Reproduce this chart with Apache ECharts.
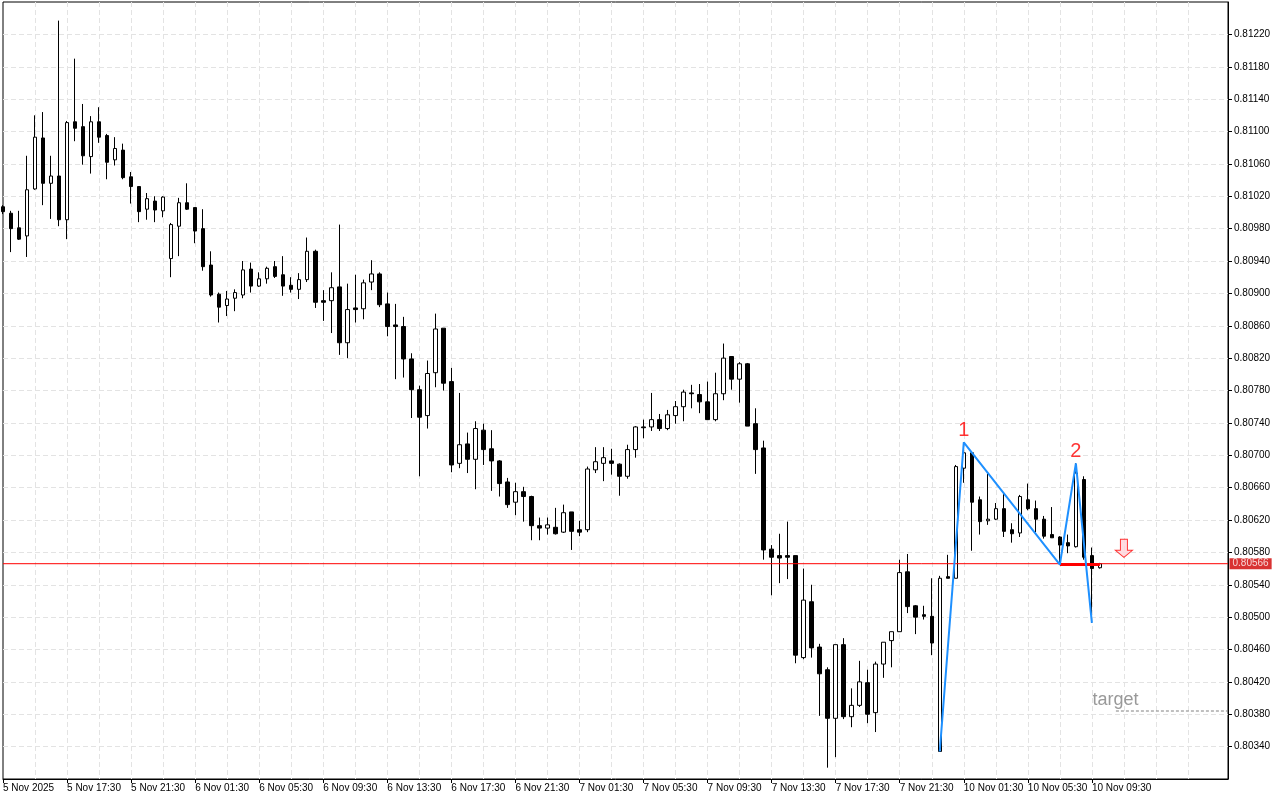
<!DOCTYPE html>
<html><head><meta charset="utf-8">
<script src="https://cdn.jsdelivr.net/npm/echarts@6/dist/echarts.min.js"></script>
<style>html,body{margin:0;padding:0;background:#fff}#c{width:1280px;height:800px}</style>
</head><body><div id="c"></div>
<script>
// 30-minute candles, 5 Nov 2025 13:30 .. 10 Nov 2025 10:00
const openP = [0.81007,0.80999,0.80981,0.80971,0.81029,0.81092,0.81036,0.81045,0.80991,0.81112,
0.81106,0.81069,0.81112,0.81095,0.81065,0.81077,0.81044,0.81032,0.81004,0.81014,
0.81002,0.80943,0.80983,0.81012,0.81006,0.80980,0.80935,0.80899,0.80885,0.80894,
0.80898,0.80930,0.80909,0.80918,0.80933,0.80923,0.80910,0.80905,0.80917,0.80952,
0.80891,0.80891,0.80908,0.80839,0.80882,0.80881,0.80914,0.80924,0.80887,0.80861,
0.80859,0.80819,0.80781,0.80749,0.80802,0.80857,0.80791,0.80690,0.80714,0.80695,
0.80731,0.80708,0.80693,0.80667,0.80642,0.80655,0.80649,0.80613,0.80610,0.80611,
0.80605,0.80630,0.80608,0.80608,0.80682,0.80690,0.80693,0.80689,0.80674,0.80707,
0.80735,0.80735,0.80744,0.80733,0.80749,0.80760,0.80777,0.80775,0.80766,0.80744,
0.80776,0.80822,0.80794,0.80813,0.80739,0.80709,0.80584,0.80576,0.80576,0.80576,
0.80450,0.80519,0.80463,0.80435,0.80375,0.80466,0.80377,0.80391,0.80419,0.80382,
0.80442,0.80471,0.80482,0.80556,0.80514,0.80503,0.80501,0.80334,0.80550,0.80548,
0.80684,0.80703,0.80645,0.80619,0.80621,0.80634,0.80608,0.80604,0.80645,0.80634,
0.80621,0.80602,0.80599,0.80592,0.80587,0.80670,0.80576,0.80561];
const closeP = [0.81001,0.80980,0.80967,0.81028,0.81093,0.81036,0.81045,0.80991,0.81111,0.81104,
0.81070,0.81112,0.81093,0.81062,0.81079,0.81043,0.81032,0.81001,0.81017,0.81003,
0.81019,0.80985,0.81012,0.81004,0.80977,0.80933,0.80898,0.80883,0.80893,0.80901,
0.80929,0.80909,0.80918,0.80931,0.80921,0.80909,0.80905,0.80917,0.80952,0.80889,
0.80889,0.80907,0.80839,0.80880,0.80880,0.80913,0.80924,0.80886,0.80859,0.80859,
0.80819,0.80781,0.80747,0.80801,0.80856,0.80789,0.80688,0.80713,0.80695,0.80733,
0.80707,0.80693,0.80665,0.80639,0.80655,0.80649,0.80613,0.80610,0.80614,0.80603,
0.80629,0.80606,0.80605,0.80683,0.80692,0.80697,0.80690,0.80674,0.80707,0.80735,
0.80734,0.80744,0.80733,0.80750,0.80760,0.80778,0.80776,0.80766,0.80744,0.80776,
0.80820,0.80794,0.80813,0.80736,0.80707,0.80583,0.80574,0.80573,0.80574,0.80453,
0.80521,0.80462,0.80430,0.80375,0.80466,0.80377,0.80391,0.80420,0.80380,0.80442,
0.80469,0.80482,0.80555,0.80513,0.80500,0.80501,0.80468,0.80548,0.80548,0.80686,
0.80703,0.80642,0.80618,0.80621,0.80634,0.80606,0.80603,0.80649,0.80634,0.80621,
0.80600,0.80598,0.80589,0.80588,0.80678,0.80574,0.80560,0.80566];
const lowP = [0.80998,0.80951,0.80966,0.80945,0.81028,0.81009,0.80992,0.80983,0.80967,0.81088,
0.81059,0.81048,0.81086,0.81041,0.81058,0.81041,0.81011,0.80988,0.80991,0.80988,
0.80994,0.80920,0.80946,0.81003,0.80962,0.80928,0.80896,0.80864,0.80872,0.80878,
0.80894,0.80901,0.80908,0.80912,0.80919,0.80897,0.80901,0.80893,0.80914,0.80882,
0.80866,0.80851,0.80824,0.80820,0.80864,0.80868,0.80904,0.80883,0.80847,0.80794,
0.80796,0.80746,0.80674,0.80733,0.80784,0.80780,0.80679,0.80684,0.80678,0.80658,
0.80688,0.80656,0.80649,0.80635,0.80626,0.80618,0.80595,0.80595,0.80602,0.80602,
0.80604,0.80583,0.80600,0.80605,0.80678,0.80668,0.80676,0.80650,0.80671,0.80697,
0.80721,0.80730,0.80730,0.80731,0.80739,0.80742,0.80758,0.80752,0.80744,0.80742,
0.80768,0.80781,0.80765,0.80736,0.80677,0.80571,0.80527,0.80542,0.80547,0.80443,
0.80448,0.80450,0.80378,0.80314,0.80327,0.80374,0.80364,0.80389,0.80369,0.80358,
0.80425,0.80438,0.80482,0.80505,0.80479,0.80497,0.80453,0.80334,0.80548,0.80548,
0.80666,0.80582,0.80602,0.80614,0.80620,0.80599,0.80592,0.80599,0.80632,0.80605,
0.80597,0.80598,0.80565,0.80579,0.80586,0.80571,0.80493,0.80560];
const highP = [0.81009,0.81002,0.81002,0.81070,0.81120,0.81124,0.81070,0.81237,0.81113,0.81190,
0.81134,0.81119,0.81130,0.81097,0.81093,0.81085,0.81050,0.81032,0.81024,0.81020,
0.81020,0.80987,0.81018,0.81036,0.81006,0.81004,0.80952,0.80901,0.80903,0.80905,
0.80940,0.80938,0.80926,0.80933,0.80940,0.80946,0.80920,0.80925,0.80969,0.80954,
0.80904,0.80926,0.80985,0.80912,0.80923,0.80917,0.80941,0.80926,0.80901,0.80887,
0.80871,0.80826,0.80786,0.80817,0.80875,0.80857,0.80808,0.80777,0.80728,0.80742,
0.80739,0.80731,0.80694,0.80672,0.80666,0.80661,0.80650,0.80623,0.80623,0.80635,
0.80639,0.80630,0.80619,0.80686,0.80710,0.80710,0.80708,0.80690,0.80713,0.80736,
0.80744,0.80777,0.80751,0.80756,0.80767,0.80781,0.80787,0.80788,0.80791,0.80802,
0.80838,0.80822,0.80815,0.80814,0.80758,0.80718,0.80589,0.80603,0.80618,0.80576,
0.80560,0.80540,0.80467,0.80438,0.80466,0.80474,0.80412,0.80446,0.80435,0.80445,
0.80469,0.80482,0.80571,0.80578,0.80515,0.80514,0.80548,0.80551,0.80577,0.80688,
0.80716,0.80703,0.80649,0.80677,0.80641,0.80652,0.80616,0.80651,0.80665,0.80644,
0.80625,0.80636,0.80600,0.80602,0.80690,0.80674,0.80586,0.80567];

const tickLabels = ['5 Nov 2025','5 Nov 17:30','5 Nov 21:30','6 Nov 01:30','6 Nov 05:30','6 Nov 09:30',
'6 Nov 13:30','6 Nov 17:30','6 Nov 21:30','7 Nov 01:30','7 Nov 05:30','7 Nov 09:30','7 Nov 13:30',
'7 Nov 17:30','7 Nov 21:30','10 Nov 01:30','10 Nov 05:30','10 Nov 09:30'];

// Zigzag pattern points (bar index, price) and labels
const zigIndex = [117, 120, 132, 134, 136];
const zigPrice = [0.80334, 0.80716, 0.80565, 0.80690, 0.80493];
const zigText  = ['', '1', '', '2', ''];
const necklinePrice = 0.80565;
const currentPrice = 0.80566;
const targetPrice = 0.80384;
const targetTextPrice = 0.80398;
const arrowPrice = 0.80585;

// categories: 30-min bars skipping weekend, including empty future slots
const months = ['Jan','Feb','Mar','Apr','May','Jun','Jul','Aug','Sep','Oct','Nov','Dec'];
const categories = [];
let t = Date.UTC(2025, 10, 5, 13, 30);
while (categories.length < 154) {
  const d = new Date(t);
  const wd = d.getUTCDay();
  if (wd !== 0 && wd !== 6) {
    const hh = String(d.getUTCHours()).padStart(2, '0');
    const mm = String(d.getUTCMinutes()).padStart(2, '0');
    categories.push(d.getUTCDate() + ' ' + months[d.getUTCMonth()] + ' ' + hh + ':' + mm);
  }
  t += 1800000;
}
const nBars = openP.length;
const lastIdx = categories.length - 1;
const lastTick = (tickLabels.length - 1) * 8;
const candleData = openP.map((o, i) => [o, closeP[i], lowP[i], highP[i]]);

const FONT = 'Liberation Sans';
const chart = echarts.init(document.getElementById('c'), null, {renderer: 'canvas'});
chart.setOption({
  animation: false,
  backgroundColor: '#ffffff',
  grid: {left: 2, right: 52, top: 2, bottom: 21, show: true, borderColor: '#000', borderWidth: 1, backgroundColor: 'transparent'},
  xAxis: {
    type: 'category', data: categories, boundaryGap: false,
    axisLine: {show: true, lineStyle: {color: '#000', width: 1}},
    axisTick: {show: true, length: 4, lineStyle: {color: '#000'}, interval: (i) => i % 8 === 0 && i <= lastTick},
    axisLabel: {
      interval: (i) => i % 8 === 0 && i <= lastTick,
      formatter: (v) => { const i = categories.indexOf(v); return tickLabels[i / 8] || ''; },
      align: 'left', color: '#000', fontSize: 10, fontFamily: FONT, margin: 4
    },
    splitLine: {show: true, showMinLine: false, showMaxLine: false, interval: (i) => i % 4 === 0,
      lineStyle: {color: '#e3e3e3', type: [5, 3], width: 1}}
  },
  yAxis: {
    type: 'value', position: 'right', min: 0.8030, max: 0.8126, interval: 0.0004, scale: true,
    axisLine: {show: true, lineStyle: {color: '#000', width: 1}},
    axisTick: {show: true, length: 4, lineStyle: {color: '#000'}},
    axisLabel: {formatter: (v) => v.toFixed(5), color: '#000', fontSize: 10, fontFamily: FONT, margin: 6,
      showMinLabel: false, showMaxLabel: false},
    splitLine: {show: true, showMinLine: false, showMaxLine: false, lineStyle: {color: '#e3e3e3', type: [5, 3], width: 1}}
  },
  series: [
    {
      type: 'candlestick', data: candleData, barWidth: 4,
      itemStyle: {color: '#ffffff', color0: '#000000', borderColor: '#000000', borderColor0: '#000000', borderWidth: 1},
      z: 2
    },
    {
      // current bid price line
      type: 'line', data: [[0, currentPrice], [lastIdx, currentPrice]], symbol: 'none',
      lineStyle: {color: '#ff0000', width: 1}, z: 3
    },
    {
      // price tag on the price scale
      type: 'scatter', symbolSize: 1, itemStyle: {color: 'rgba(0,0,0,0)'}, z: 7,
      data: [{value: [lastIdx, currentPrice], label: {show: true, position: 'right', distance: 1,
        formatter: () => currentPrice.toFixed(5), backgroundColor: '#d00000', color: '#ffffff',
        fontSize: 10, fontFamily: FONT, padding: [1, 3, 0, 3]}}]
    },
    {
      type: 'line', data: [[132, necklinePrice], [nBars - 1, necklinePrice]], symbol: 'none',
      lineStyle: {color: '#ff0000', width: 3}, z: 4
    },
    {
      type: 'line', data: zigIndex.map((x, i) => [x, zigPrice[i]]), symbol: 'none',
      lineStyle: {color: '#1e90ff', width: 2}, z: 5
    },
    {
      type: 'scatter', symbolSize: 1, itemStyle: {color: 'rgba(0,0,0,0)'}, z: 6,
      data: zigIndex.map((x, i) => ({value: [x, zigPrice[i]],
        label: {show: zigText[i] !== '', formatter: zigText[i], position: 'top', distance: 1,
          color: '#ff0000', fontSize: 20, fontFamily: FONT}}))
    },
    {
      type: 'line', data: [[139, targetPrice], [lastIdx, targetPrice]], symbol: 'none',
      lineStyle: {color: '#808080', width: 1, type: [3, 2]}, z: 4
    },
    {
      type: 'scatter', symbolSize: 1, itemStyle: {color: 'rgba(0,0,0,0)'}, z: 6,
      data: [{value: [136, targetTextPrice], label: {show: true, formatter: 'target', position: 'right', distance: 0,
        color: '#808080', fontSize: 18, fontFamily: FONT}}]
    },
    {
      type: 'scatter', z: 6,
      symbol: 'path://M5,0L12,0L12,11L17,11L8.5,18L0,11L5,11Z', symbolSize: [17, 18],
      itemStyle: {color: '#ffd3da', borderColor: '#ff0000', borderWidth: 1},
      data: [[140, arrowPrice]]
    }
  ]
});
</script>
</body></html>
